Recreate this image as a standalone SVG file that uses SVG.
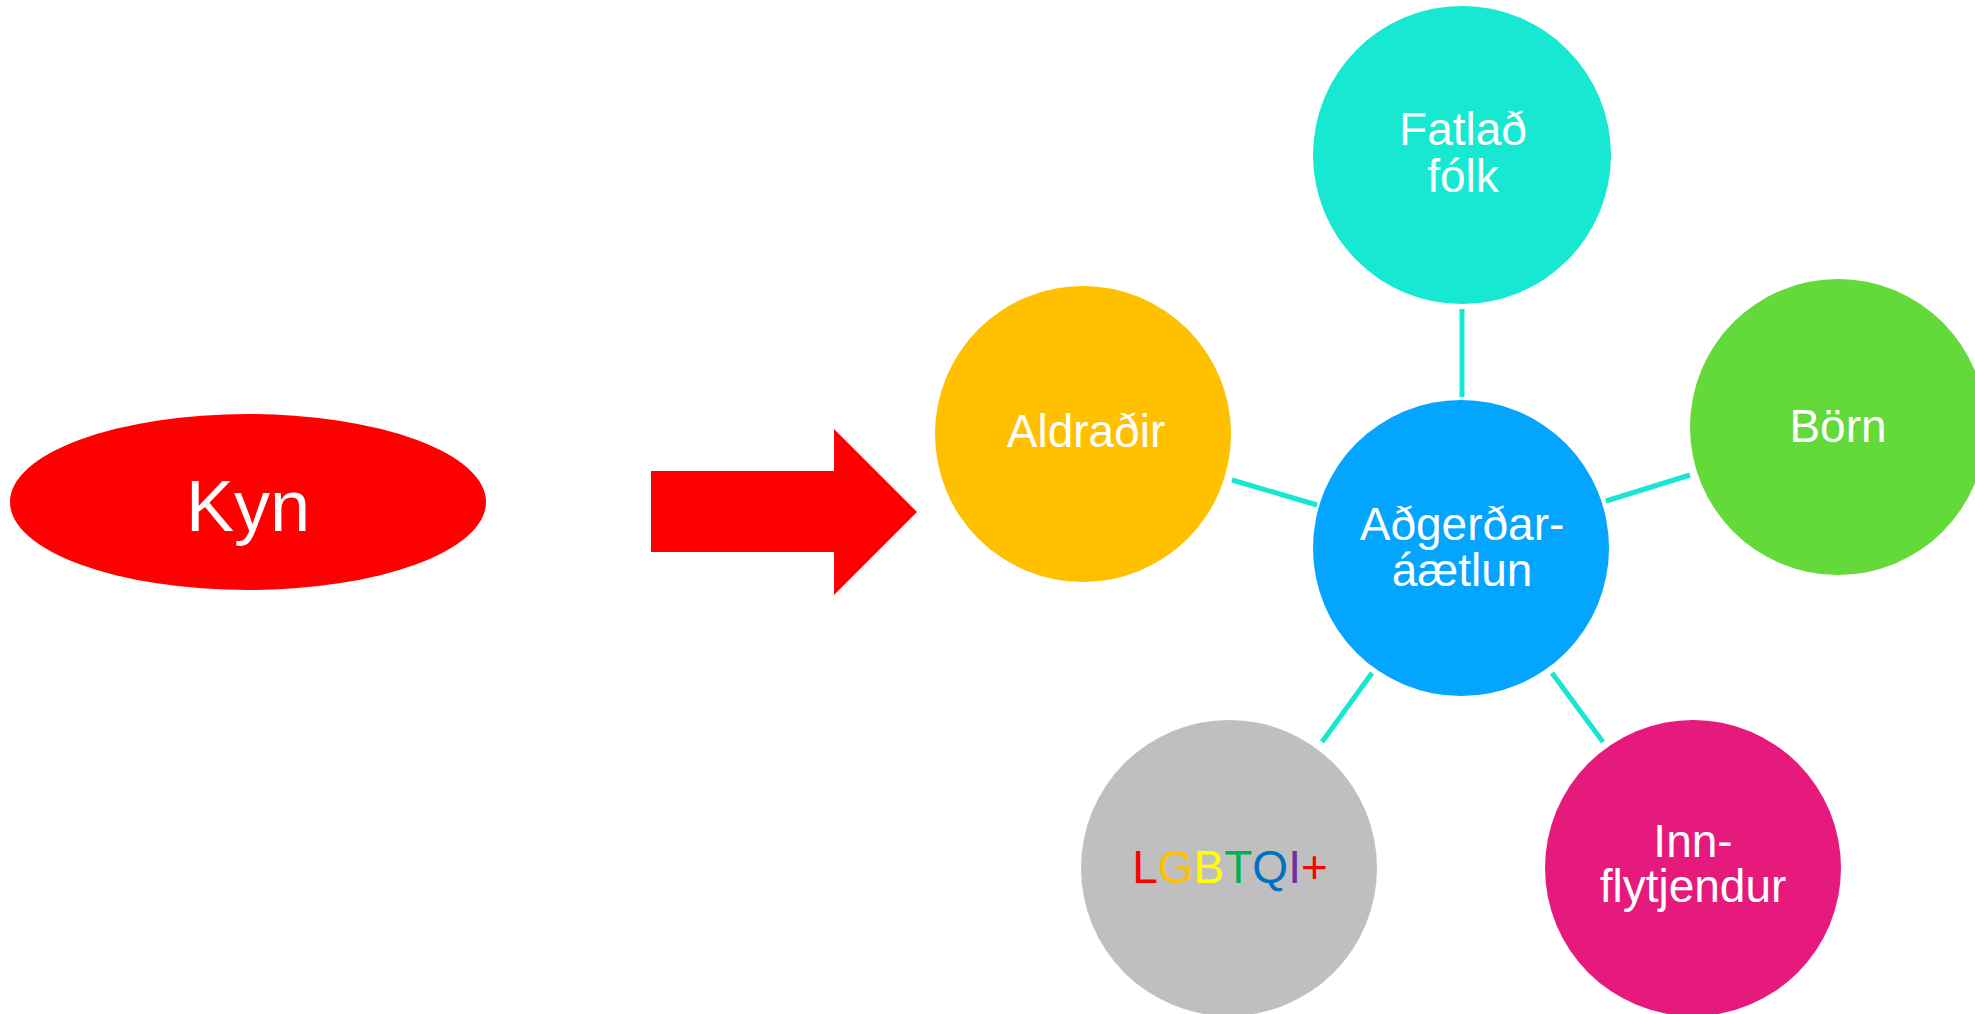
<svg xmlns="http://www.w3.org/2000/svg" width="1975" height="1014" viewBox="0 0 1975 1014">
<style>
text{font-family:"Liberation Sans",Arial,sans-serif;text-anchor:middle}
.lbl{font-size:46px;fill:#FFFFFF}
.con{stroke:#17E6D1;stroke-width:5;fill:none}
</style>
<rect x="0" y="0" width="1975" height="1014" fill="#FFFFFF"/>
<g id="connectors">
<line class="con" x1="1462" y1="309" x2="1462" y2="397"/>
<line class="con" x1="1232" y1="480" x2="1317" y2="505"/>
<line class="con" x1="1606" y1="501" x2="1690" y2="475"/>
<line class="con" x1="1372" y1="673" x2="1322" y2="742"/>
<line class="con" x1="1552" y1="673" x2="1603" y2="742"/>
</g>
<g id="kyn">
<ellipse cx="248" cy="502" rx="238" ry="88" fill="#FF0000"/>
<text x="248" y="531" style="font-size:72px;fill:#FFFFFF">Kyn</text>
</g>
<g id="arrow">
<polygon points="651,471 834,471 834,429 917,512 834,595 834,552 651,552" fill="#FF0000"/>
</g>
<g id="fatlad">
<circle cx="1462" cy="155" r="149" fill="#17E8D1"/>
<text class="lbl" x="1463" y="145">Fatlað</text>
<text class="lbl" x="1463" y="192">fólk</text>
</g>
<g id="aldradir">
<circle cx="1083" cy="434" r="148" fill="#FFC000"/>
<text class="lbl" x="1086" y="447">Aldraðir</text>
</g>
<g id="born">
<circle cx="1838" cy="427" r="148" fill="#63D93A"/>
<text class="lbl" x="1838" y="442">Börn</text>
</g>
<g id="adgerdar">
<circle cx="1461" cy="548" r="148" fill="#03A5FF"/>
<text class="lbl" x="1462" y="540">Aðgerðar-</text>
<text class="lbl" x="1462" y="586">áætlun</text>
</g>
<g id="lgbtqi">
<circle cx="1229" cy="868" r="148" fill="#BFBFBF"/>
<text x="1230" y="883" style="font-size:46px"><tspan fill="#FF0000">L</tspan><tspan fill="#FFC000">G</tspan><tspan fill="#FFFF00">B</tspan><tspan fill="#00B050">T</tspan><tspan fill="#0070C0">Q</tspan><tspan fill="#7030A0">I</tspan><tspan fill="#FF0000">+</tspan></text>
</g>
<g id="innflytjendur">
<circle cx="1693" cy="868" r="148" fill="#E6197D"/>
<text class="lbl" x="1693" y="857">Inn-</text>
<text class="lbl" x="1693" y="902">flytjendur</text>
</g>
</svg>
